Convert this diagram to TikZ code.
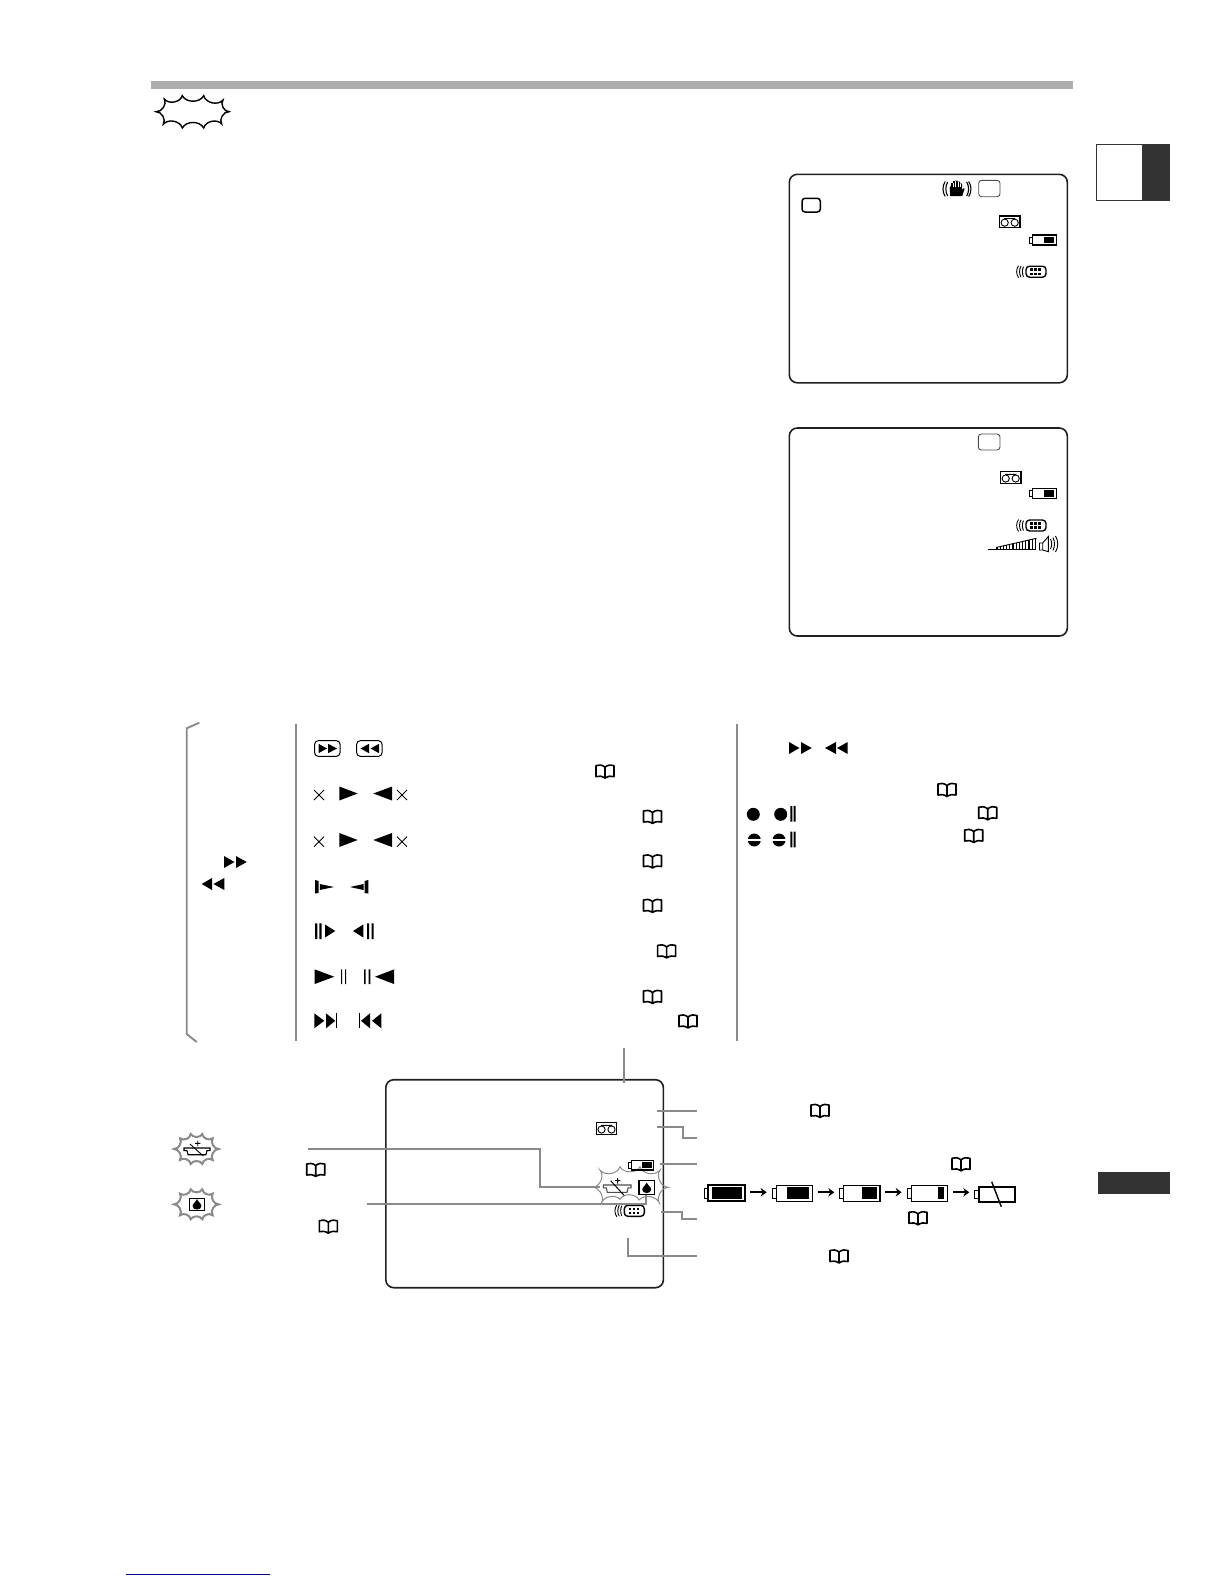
\documentclass[tikz,border=0pt]{standalone}
\usetikzlibrary{calc,arrows.meta}
\definecolor{leadgray}{HTML}{8A8A8A}
\definecolor{tabdark}{HTML}{333333}
\tikzset{
  x=1pt,y=-1pt,
  monitor/.style={draw=black!88,line width=1.6pt,rounded corners=8pt},
  leader/.style={draw=leadgray,line width=1.9pt},
  scallop/.style={line join=miter,bend right=62},
  batarrow/.style={line width=2.2pt,-{Stealth[length=6pt,width=8.5pt]}},
}
% triangle: x of base, x of tip, centre y, half height
\newcommand{\tritip}[4]{\fill (#1,#3-#4) -- (#2,#3) -- (#1,#3+#4) -- cycle;}
\newcommand{\crossmark}[2]{\draw[line width=.8pt] (#1-5,#2-5) -- (#1+5,#2+5) (#1-5,#2+5) -- (#1+5,#2-5);}
\newcommand{\bookicon}[2]{\begin{scope}[shift={(#1,#2)}]
  \draw[line width=1.6pt,line join=round] (0,-4.5) .. controls (-3,-7) and (-6.5,-7) .. (-9,-6) -- (-9,5) .. controls (-6,4) and (-3,4.5) .. (0,6.5) .. controls (3,4.5) and (6,4) .. (9,5) -- (9,-6) .. controls (6.5,-7) and (3,-7) .. (0,-4.5) -- cycle (0,-4.5) -- (0,6.5);
\end{scope}}
\newcommand{\tapeicon}[2]{\begin{scope}[shift={(#1,#2)}]
  \draw[line width=1.2pt] (-10.3,-5.8) rectangle (10.3,5.8);
  \draw[line width=.9pt] (-5,1) circle (3.6) (5,1) circle (3.6) (-5.5,-3.2) -- (5.5,-3.2);
\end{scope}}
% battery: x1 y1 x2 y2 nub-width fill-x1 fill-x2 line-width
\newcommand{\batt}[8]{
  \draw[line width=#8pt] (#1,#2) rectangle (#3,#4);
  \draw[line width=1pt] (#1,{#2+0.2*(#4-#2)}) -- (#1-#5,{#2+0.2*(#4-#2)}) -- (#1-#5,{#2+0.8*(#4-#2)}) -- (#1,{#2+0.8*(#4-#2)});
  \fill (#6,{#2+2}) rectangle (#7,{#4-2});
}
\newcommand{\gridicon}[2]{\begin{scope}[shift={(#1,#2)}]
  \draw[line width=1.4pt,rounded corners=3.5pt] (-10,-5.5) rectangle (10,5.5);
  \foreach \dx in {-4.5,-.5,3.5}{\fill (\dx-1.2,-3.3) rectangle (\dx+1.2,-.8); \fill (\dx-1.2,.8) rectangle (\dx+1.2,3.3);}
  \draw[line width=.9pt] (-12.5,-5) .. controls (-14,-2) and (-14,2) .. (-12.5,5)
    (-15,-5.5) .. controls (-17,-2) and (-17,2) .. (-15,5.5)
    (-17.5,-6) .. controls (-20,-2) and (-20,2) .. (-17.5,6);
\end{scope}}
\newcommand{\dropicon}[2]{\begin{scope}[shift={(#1,#2)}]
  \fill (0,-5.5) .. controls (1,-3) and (4.5,-.5) .. (4.5,1.5) .. controls (4.5,4) and (2,5) .. (0,5) .. controls (-2,5) and (-4.5,4) .. (-4.5,1.5) .. controls (-4.5,-.5) and (-1,-3) .. (0,-5.5) -- cycle;
\end{scope}}
\newcommand{\cleanbody}[5]{% x1 x2 y1 y2 colour
  \draw[#5,line width=1.1pt] (#1,#3) -- (#2,#3) -- (#2,{#3+0.4*(#4-#3)}) -- (#2-3,{#3+0.4*(#4-#3)}) -- (#2-4,#4) -- (#1+4,#4) -- (#1+3,{#3+0.4*(#4-#3)}) -- (#1,{#3+0.4*(#4-#3)}) -- cycle;}
\newcommand{\smallburst}[2]{\draw[leadgray,line width=2pt,shift={(#1,#2)}]
  (-22,0) to[scallop] (-16,-10.7) to[scallop] (-5.3,-15) to[scallop] (6.3,-15) to[scallop] (16.7,-10.7) to[scallop] (22.7,0) to[scallop] (16.7,11) to[scallop] (6.3,15) to[scallop] (-5.3,15) to[scallop] (-16,11) to[scallop] cycle;}
\begin{document}
\begin{tikzpicture}
\useasboundingbox (0,0) rectangle (1224,1584);
% header
\fill[black!32] (151,81) rectangle (1073,89);
\draw[line width=1.4pt]
 (156,111.7) to[scallop] (164.3,99) to[scallop] (182.3,95.7) to[scallop] (203.7,95.7) to[scallop] (223,100) to[scallop] (229,111.7) to[scallop] (221.7,124) to[scallop] (203.7,128) to[scallop] (182.3,128) to[scallop] (163.3,124.3) to[scallop] cycle;
% side tabs
\fill[tabdark] (1096,144) rectangle (1170,201);
\fill[white] (1097,145) rectangle (1141.7,199.5);
\fill[tabdark] (1098,1172) rectangle (1170,1194);
% monitor 1
\draw[monitor] (789.3,174.3) rectangle (1067.3,382.8);
\begin{scope}[shift={(956.7,189)}]
  \fill (-6.5,7) -- (-7,-1) -- (-5.5,-4) -- (-5.5,-6) -- (-3.5,-6) -- (-3.5,-8) -- (-1.5,-8) -- (-1.5,-8.5) -- (1,-8.5) -- (1,-7.5) -- (3.3,-7.5) -- (3.3,-5.5) -- (5.5,-5.5) -- (5.5,1) -- (7.2,-1) -- (7.8,0) -- (5.5,7) -- cycle;
  \draw[white,line width=.5pt] (-3.5,-6) -- (-3.5,-2) (-1,-8) -- (-1,-2) (1.4,-7.5) -- (1.4,-2) (3.5,-5.5) -- (3.5,-2);
  \draw[line width=1.1pt] (-9,-7) .. controls (-11.5,-3) and (-11.5,3) .. (-9,7)
   (-11.5,-7.5) .. controls (-14.5,-3) and (-14.5,3) .. (-11.5,7.5)
   (10,-7) .. controls (12.5,-3) and (12.5,3) .. (10,7)
   (12,-7.5) .. controls (15,-3) and (15,3) .. (12,7.5);
\end{scope}
\draw[black!70,line width=.9pt,rounded corners=3pt] (978.7,180.3) rectangle (1000,196.7);
\draw[line width=1.5pt,rounded corners=3pt] (802,198.3) rectangle (820.3,212);
\tapeicon{1009.7}{221.7}
\batt{1032.3}{235}{1056.7}{245}{3}{1044}{1054}{1.5}
\gridicon{1036}{271.7}
% monitor 2
\draw[monitor] (789.3,428) rectangle (1067.3,636);
\draw[black!70,line width=.9pt,rounded corners=3pt] (978.3,434) rectangle (1000,450);
\tapeicon{1010.7}{477.5}
\batt{1032.7}{488.3}{1056.7}{498.7}{3}{1044}{1054}{1.5}
\gridicon{1036}{525.5}
\draw[line width=1.5pt] (988.3,549.6) -- (1036,549.6);
\draw[line width=.9pt] (996,547.5) -- (1036.5,538.3);
\foreach \i in {0,...,12}{\draw[line width=1.1pt] ({997+\i*3.2},549.6) -- ({997+\i*3.2},{547.3-\i*.72});}
\draw[line width=.9pt] (1039.5,543) rectangle (1042.7,550) (1042.7,543) -- (1048.3,536.5) -- (1048.3,551.7) -- (1042.7,550);
\draw[line width=.9pt] (1050.5,539) .. controls (1052,542) and (1052,546) .. (1050.5,549)
 (1053,537.5) .. controls (1055,542) and (1055,546) .. (1053,550.5)
 (1055.5,536) .. controls (1058.5,541) and (1058.5,547) .. (1055.5,552);
% bracket and rules
\draw[leader,line join=miter] (199.3,722.7) -- (186.7,728.3) -- (186.7,1034) -- (196.7,1042);
\draw[leader,line width=2.2pt] (296,724.3) -- (296,1040.7);
\draw[leader,line width=2.2pt] (737.3,724.3) -- (737.3,1040.7);
% left FF
\tritip{224}{234.5}{862}{6}\tritip{236}{246.7}{862}{6}
\tritip{212}{201.7}{884}{6}\tritip{224.3}{213.5}{884}{6}
% col 2
\draw[line width=1pt,rounded corners=3.5pt] (314.7,740.7) rectangle (340,756.3);
\draw[line width=1pt,rounded corners=3.5pt] (356.7,740.7) rectangle (382,756.3);
\tritip{318.5}{327}{748.5}{4.7}\tritip{328}{337}{748.5}{4.7}
\tritip{369}{360.5}{748.5}{4.7}\tritip{379}{370.5}{748.5}{4.7}
\crossmark{319}{795}\tritip{339.3}{357.7}{793.5}{7}\tritip{392}{373.3}{793.5}{7}\crossmark{402}{795}
\crossmark{319}{841.7}\tritip{339.3}{357.7}{840}{7}\tritip{392}{373.3}{840}{7}\crossmark{402}{841.7}
\fill (315,880) -- (318.7,881) -- (318.7,893) -- (315,893.5) -- cycle; \tritip{319.8}{334}{887}{3}
\fill (368.3,880) -- (364.6,881) -- (364.6,893) -- (368.3,893.5) -- cycle; \tritip{363.5}{350}{887}{3}
\fill (315,923.3) rectangle (317.3,939) (319.3,923.3) rectangle (321.7,939); \tritip{325}{335.3}{931}{6.5}
\fill (367,923.3) rectangle (369,939) (371.7,923.3) rectangle (373.7,939); \tritip{363.3}{353}{931}{6.5}
\tritip{314.7}{334.3}{976.7}{7.3}\fill (341,969.3) rectangle (342,984) (345,969.3) rectangle (346,984);
\fill (364,969.3) rectangle (365.6,984) (368.7,969.3) rectangle (370.3,984); \tritip{394}{375}{976.7}{7.3}
\tritip{314.3}{324.3}{1020.8}{7.5}\tritip{326}{335.3}{1020.8}{7.5}\fill (336.3,1013.3) rectangle (337,1028.3);
\fill (359,1013.3) rectangle (359.7,1028.3); \tritip{370}{361}{1020.8}{7.5}\tritip{381.3}{372}{1020.8}{7.5}
% col 2 and 3 books
\bookicon{605}{771.6}\bookicon{652.5}{817}\bookicon{652.5}{861.5}\bookicon{652.5}{906}
\bookicon{666.6}{951.4}\bookicon{652.5}{997}\bookicon{688}{1021.5}
\bookicon{947}{790}\bookicon{987.7}{813.3}\bookicon{973.7}{836}
% col 3 icons
\tritip{789}{799.5}{748}{6}\tritip{801}{811.7}{748}{6}
\tritip{836}{825}{748}{6}\tritip{847.7}{837}{748}{6}
\fill (753.3,814.3) circle (6.5) (780.7,814.3) circle (6.5);
\fill (790.3,806) rectangle (792.3,821.7) (793.7,806) rectangle (795.7,821.7);
\fill (754.3,840) circle (6.5) (779,840) circle (6.5);
\fill[white] (747,839.2) rectangle (786,840.8);
\fill (790.3,831.7) rectangle (792.3,847.3) (793.7,831.7) rectangle (795.7,847.3);
% lower monitor
\draw[monitor] (385.8,1079.7) rectangle (663.4,1287.7);
\tapeicon{606.5}{1128.5}
\draw[leadgray,line width=1pt]
 (593,1187.3) to[scallop] (600,1170) to[scallop] (620,1166.7) to[scallop] (640,1166.7) to[scallop] (660,1170) to[scallop] (668.3,1187.3) to[scallop] (660,1204.3) to[scallop] (639,1200) to[scallop] (620,1199.3) to[scallop] (600.7,1204.3) to[scallop] cycle;
\batt{631.3}{1160.3}{653.7}{1170}{3}{641.7}{652.2}{1.4}
\cleanbody{603.3}{631}{1185}{1192.3}{black!70}
\draw[line width=1pt] (617.7,1178) -- (617.7,1183.5) (615,1180.7) -- (620.4,1180.7) (610.7,1180.7) -- (624,1195.3);
\draw[line width=1.4pt] (639,1180.7) rectangle (654.3,1194.7);
\dropicon{646.7}{1188}
\gridicon{634.3}{1210.8}
% leaders
\draw[leader] (624,1048) -- (624,1083);
\draw[leader] (656.7,1110.7) -- (697.3,1110.7);
\draw[leader] (657,1126.7) -- (682.7,1126.7) -- (682.7,1137.7) -- (697.3,1137.7);
\draw[leader] (660,1163.7) -- (697.3,1163.7);
\draw[leader] (661,1211.7) -- (681.7,1211.7) -- (681.7,1219.3) -- (697.3,1219.3);
\draw[leader] (628.3,1238.3) -- (628.3,1255.7) -- (697.3,1255.7);
\draw[leader] (307.7,1149) -- (540,1149) -- (540,1187.3) -- (600,1187.3);
\draw[leader] (366.7,1203.9) -- (646,1203.9) -- (646,1195);
% bursts on the left
\smallburst{196}{1149}
\cleanbody{184}{210}{1148}{1154.7}{black}
\draw[line width=.9pt] (197.7,1140.5) -- (197.7,1146) (195,1143.3) -- (200.4,1143.3) (190,1144) -- (203.3,1156);
\smallburst{196}{1204.3}
\draw[line width=.9pt] (189,1198.3) rectangle (204.7,1210.7);
\dropicon{197}{1204.5}
\bookicon{315.7}{1170}\bookicon{328.3}{1226.7}
% battery row
\batt{708.3}{1185.3}{745}{1201.3}{4}{711.7}{742.3}{1.8}
\draw[batarrow] (750,1192.3) -- (766.7,1192.3);
\batt{776.3}{1185.3}{812.7}{1201.3}{4}{787}{809.3}{1.5}
\draw[batarrow] (818,1192.3) -- (834.3,1192.3);
\batt{843.3}{1185.3}{880}{1201.3}{4}{862}{877.3}{1.5}
\draw[batarrow] (885,1192.3) -- (901.7,1192.3);
\batt{911.3}{1185.3}{947.7}{1201.3}{4}{938}{944}{1.5}
\draw[batarrow] (953,1192.3) -- (969.3,1192.3);
\draw[line width=1.7pt] (978.7,1186.7) rectangle (1015.3,1202);
\draw[line width=1pt] (978.7,1190) -- (974.7,1190) -- (974.7,1198.5) -- (978.7,1198.5);
\draw[line width=1.4pt] (991.7,1181.7) -- (1001.3,1206.7);
\bookicon{961}{1164.3}\bookicon{918}{1218.3}\bookicon{839}{1256.5}\bookicon{820}{1111}
% link underline
\draw[blue!55!black,line width=.9pt] (126,1574.6) -- (270,1574.6);
\end{tikzpicture}
\end{document}
